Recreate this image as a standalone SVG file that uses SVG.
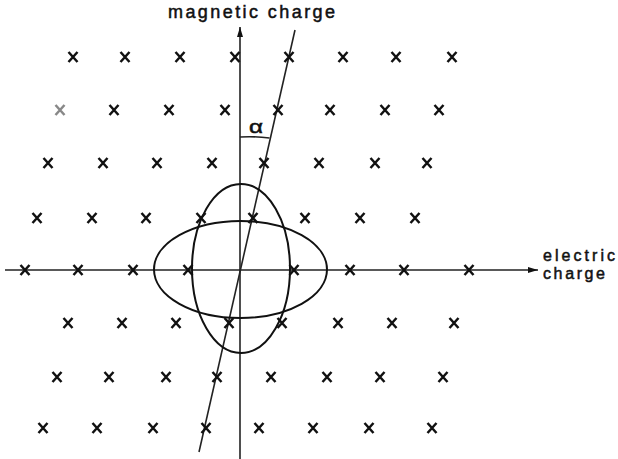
<svg xmlns="http://www.w3.org/2000/svg" xmlns:xlink="http://www.w3.org/1999/xlink" width="618" height="459" viewBox="0 0 618 459">
<style>
.ax{stroke:#222;stroke-width:1.6;fill:none}
.el{stroke:#111;stroke-width:2;fill:none}
.mk{stroke:#111;stroke-width:2.5;stroke-linecap:butt;fill:none}
.lbl{font-family:"Liberation Sans",Arial,sans-serif;font-size:18px;fill:#111;stroke:#111;stroke-width:0.5}
</style>
<defs>
<marker id="ah" viewBox="0 0 10 6" refX="10" refY="3" markerWidth="10" markerHeight="6" markerUnits="userSpaceOnUse" orient="auto">
<path d="M0,0 L10,3 L0,6 Z" fill="#111"/>
</marker>
<path id="x" class="mk" d="M-4.5,-5 L4.5,5 M4.5,-5 L-4.5,5"/>
</defs>
<rect width="618" height="459" fill="#fff"/>
<g id="connectors">
<line class="ax" x1="5" y1="270" x2="538" y2="270" marker-end="url(#ah)"/>
<line class="ax" x1="240" y1="459" x2="240" y2="27" marker-end="url(#ah)" stroke="#444"/>
<line class="ax" x1="295" y1="30" x2="199" y2="452"/>
<path class="ax" d="M240,137 A160,160 0 0 1 269.5,138"/>
</g>
<g id="ellipses">
<ellipse class="el" cx="240.5" cy="269.5" rx="86.5" ry="48.5"/>
<ellipse class="el" cx="241" cy="268.5" rx="49" ry="84.5"/>
</g>
<g id="lattice">
<use xlink:href="#x" x="73" y="57"/><use xlink:href="#x" x="125" y="57"/><use xlink:href="#x" x="180" y="57"/><use xlink:href="#x" x="235" y="57"/><use xlink:href="#x" x="289" y="57"/><use xlink:href="#x" x="343" y="57"/><use xlink:href="#x" x="396" y="57"/><use xlink:href="#x" x="452" y="57"/>
<use xlink:href="#x" x="60" y="110" opacity="0.5"/><use xlink:href="#x" x="114" y="110"/><use xlink:href="#x" x="169" y="110"/><use xlink:href="#x" x="225" y="110"/><use xlink:href="#x" x="278" y="110"/><use xlink:href="#x" x="330" y="110"/><use xlink:href="#x" x="385" y="110"/><use xlink:href="#x" x="439" y="110"/>
<use xlink:href="#x" x="48" y="163"/><use xlink:href="#x" x="103" y="163"/><use xlink:href="#x" x="157" y="163"/><use xlink:href="#x" x="212" y="163"/><use xlink:href="#x" x="264" y="163"/><use xlink:href="#x" x="319" y="163"/><use xlink:href="#x" x="375" y="163"/><use xlink:href="#x" x="427" y="163"/>
<use xlink:href="#x" x="37" y="218"/><use xlink:href="#x" x="92" y="218"/><use xlink:href="#x" x="146" y="218"/><use xlink:href="#x" x="201" y="218"/><use xlink:href="#x" x="253" y="218"/><use xlink:href="#x" x="305" y="218"/><use xlink:href="#x" x="360" y="218"/><use xlink:href="#x" x="415" y="218"/>
<use xlink:href="#x" x="25" y="270"/><use xlink:href="#x" x="78" y="270"/><use xlink:href="#x" x="133" y="270"/><use xlink:href="#x" x="188" y="270"/><use xlink:href="#x" x="294" y="270"/><use xlink:href="#x" x="350" y="270"/><use xlink:href="#x" x="404" y="270"/><use xlink:href="#x" x="469" y="270"/>
<use xlink:href="#x" x="68" y="323"/><use xlink:href="#x" x="122" y="323"/><use xlink:href="#x" x="176" y="323"/><use xlink:href="#x" x="229" y="323"/><use xlink:href="#x" x="282" y="323"/><use xlink:href="#x" x="338" y="323"/><use xlink:href="#x" x="392" y="323"/><use xlink:href="#x" x="454" y="323"/>
<use xlink:href="#x" x="57" y="377"/><use xlink:href="#x" x="109" y="377"/><use xlink:href="#x" x="166" y="377"/><use xlink:href="#x" x="217" y="377"/><use xlink:href="#x" x="271" y="377"/><use xlink:href="#x" x="327" y="377"/><use xlink:href="#x" x="380" y="377"/><use xlink:href="#x" x="443" y="377"/>
<use xlink:href="#x" x="43" y="428"/><use xlink:href="#x" x="97" y="428"/><use xlink:href="#x" x="153" y="428"/><use xlink:href="#x" x="206" y="428"/><use xlink:href="#x" x="259" y="428"/><use xlink:href="#x" x="313" y="428"/><use xlink:href="#x" x="369" y="428"/><use xlink:href="#x" x="432" y="428"/>
</g>
<g id="labels">
<text class="lbl" x="543" y="260.5" textLength="72" lengthAdjust="spacing" style="font-size:16px">electric</text>
<text class="lbl" x="543" y="278.5" textLength="62" lengthAdjust="spacing" style="font-size:16px">charge</text>
<text class="lbl" x="168" y="18" textLength="167" lengthAdjust="spacing">magnetic charge</text>
<text class="lbl" x="249" y="133" textLength="14" lengthAdjust="spacingAndGlyphs" style="font-size:18px">α</text>
</g>
</svg>
